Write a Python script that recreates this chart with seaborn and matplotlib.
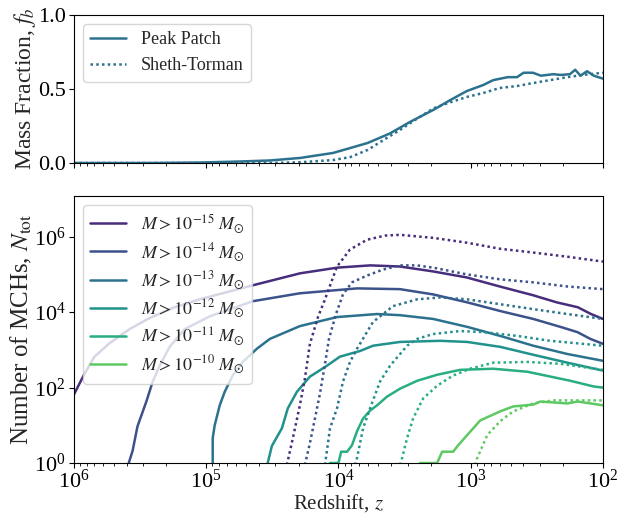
import numpy as np
import pandas as pd
import matplotlib
matplotlib.use("Agg")
import matplotlib.pyplot as plt
import seaborn as sns
from matplotlib.ticker import LogLocator, NullLocator, NullFormatter, FixedLocator

sns.set_style("ticks")
plt.rcParams.update({
    "font.family": "serif",
    "font.serif": ["Liberation Serif", "DejaVu Serif"],
    "mathtext.fontset": "stix",
    "axes.linewidth": 0.8,
    "axes.edgecolor": "black",
    "xtick.color": "black",
    "ytick.color": "black",
})

# ---------------- data (log10 redshift, values) ----------------
# Top panel: collapsed mass fraction
pp_logz = [6.0, 5.43, 5.05, 4.75, 4.52, 4.29, 4.04, 3.78, 3.61, 3.46, 3.28, 3.155, 3.03,
           2.905, 2.83, 2.72, 2.65, 2.60, 2.53, 2.47, 2.375, 2.32, 2.25, 2.21, 2.17, 2.12, 2.07, 2.0]
pp_frac = [0.0, 0.0, 0.003, 0.01, 0.017, 0.034, 0.068, 0.135, 0.20, 0.277, 0.36, 0.425, 0.486,
           0.527, 0.56, 0.58, 0.58, 0.61, 0.61, 0.59, 0.60, 0.595, 0.60, 0.63, 0.59, 0.62, 0.59, 0.57]
st_logz = [6.0, 4.5, 4.29, 4.04, 3.91, 3.78, 3.66, 3.535, 3.405, 3.28, 3.155, 3.03, 2.905,
           2.78, 2.65, 2.53, 2.40, 2.27, 2.15, 2.0]
st_frac = [0.0, 0.0, 0.005, 0.02, 0.04, 0.088, 0.155, 0.223, 0.30, 0.37, 0.41, 0.446, 0.473,
           0.507, 0.52, 0.54, 0.56, 0.58, 0.595, 0.61]

# Bottom panel: number of MCHs above mass thresholds (log10 z, log10 N)
mass_labels = [r"$M > 10^{-15}\ M_{\odot}$", r"$M > 10^{-14}\ M_{\odot}$",
               r"$M > 10^{-13}\ M_{\odot}$", r"$M > 10^{-12}\ M_{\odot}$",
               r"$M > 10^{-11}\ M_{\odot}$", r"$M > 10^{-10}\ M_{\odot}$"]

pp15_logz = [6.0, 5.92, 5.845, 5.73, 5.58, 5.43, 5.24, 5.05, 4.65, 4.29, 4.01, 3.76, 3.535,
             3.285, 3.03, 2.78, 2.53, 2.35, 2.19, 2.09, 2.0]
pp15_logN = [1.82, 2.37, 2.82, 3.18, 3.55, 3.84, 4.13, 4.34, 4.71, 5.03, 5.18, 5.24, 5.21,
             5.08, 4.92, 4.68, 4.45, 4.26, 4.13, 3.95, 3.82]

pp14_logz = [5.595, 5.557, 5.52, 5.45, 5.405, 5.352, 5.277, 5.163, 4.973, 4.648, 4.292, 3.86,
             3.535, 3.284, 3.027, 2.777, 2.527, 2.322, 2.193, 2.095, 2.0]
pp14_logN = [-0.1, 0.32, 0.97, 1.66, 2.16, 2.58, 3.08, 3.55, 3.89, 4.29, 4.50, 4.63,
             4.61, 4.47, 4.26, 4.03, 3.82, 3.61, 3.47, 3.29, 3.16]

pp13_logz = [4.951, 4.951, 4.936, 4.898, 4.86, 4.80, 4.724, 4.617, 4.519, 4.292, 4.011, 3.708,
             3.535, 3.284, 3.027, 2.777, 2.527, 2.269, 2.0]
pp13_logN = [-0.1, 0.66, 1.0, 1.53, 1.89, 2.32, 2.68, 3.03, 3.29, 3.63, 3.87, 3.95,
             3.92, 3.82, 3.61, 3.37, 3.11, 2.89, 2.71]

pp12_logz = [4.542, 4.504, 4.428, 4.383, 4.314, 4.216, 4.087, 3.989, 3.837, 3.739, 3.535,
             3.231, 3.027, 2.777, 2.527, 2.269, 2.0]
pp12_logN = [-0.1, 0.45, 0.92, 1.45, 1.89, 2.29, 2.58, 2.82, 2.97, 3.11, 3.21,
             3.24, 3.21, 3.08, 2.87, 2.66, 2.45]

pp11_logz = [4.064, 4.064, 4.0, 3.98, 3.935, 3.898, 3.86, 3.814, 3.761, 3.708, 3.633, 3.535,
             3.405, 3.254, 3.08, 2.83, 2.572, 2.246, 2.072, 2.0]
pp11_logN = [-0.1, 0.0, 0.0, 0.30, 0.30, 0.47, 0.84, 1.18, 1.39, 1.53, 1.76, 1.97,
             2.18, 2.34, 2.47, 2.50, 2.42, 2.18, 2.03, 2.0]

pp10_logz = [3.383, 3.383, 3.254, 3.216, 3.133, 3.095, 3.027, 2.928, 2.777, 2.678, 2.527,
             2.473, 2.27, 2.19, 2.0]
pp10_logN = [-0.1, 0.0, 0.0, 0.30, 0.30, 0.47, 0.74, 1.13, 1.37, 1.50, 1.55,
             1.63, 1.58, 1.63, 1.53]

st15_logz = [4.39, 4.345, 4.292, 4.254, 4.216, 4.155, 4.102, 4.011, 3.913, 3.784, 3.648,
             3.535, 3.284, 3.027, 2.777, 2.527, 2.269, 2.0]
st15_logN = [-0.05, 0.66, 1.53, 2.24, 3.16, 3.87, 4.34, 5.21, 5.66, 5.92, 6.03,
             6.05, 5.97, 5.84, 5.68, 5.58, 5.47, 5.34]

st14_logz = [4.254, 4.216, 4.178, 4.14, 4.102, 4.072, 4.019, 3.966, 3.898, 3.784, 3.663,
             3.535, 3.405, 3.284, 3.027, 2.777, 2.527, 2.269, 2.0]
st14_logN = [-0.05, 0.53, 1.18, 1.84, 2.63, 3.29, 3.95, 4.47, 4.79, 4.97, 5.13,
             5.24, 5.24, 5.18, 5.0, 4.87, 4.79, 4.68, 4.61]

st13_logz = [4.102, 4.064, 4.011, 3.966, 3.913, 3.86, 3.739, 3.587, 3.405, 3.231, 3.027,
             2.777, 2.527, 2.269, 2.0]
st13_logN = [-0.05, 0.92, 1.45, 2.16, 2.68, 3.03, 3.74, 4.16, 4.34, 4.39, 4.34,
             4.21, 4.08, 3.95, 3.82]

st12_logz = [3.875, 3.86, 3.814, 3.761, 3.686, 3.61, 3.481, 3.405, 3.284, 3.08, 2.905,
             2.648, 2.398, 2.0]
st12_logN = [-0.05, 0.13, 0.92, 1.45, 2.16, 2.58, 3.11, 3.29, 3.42, 3.50, 3.47,
             3.37, 3.24, 3.11]

st11_logz = [3.535, 3.519, 3.481, 3.436, 3.36, 3.254, 3.133, 3.004, 2.83, 2.572, 2.322, 2.0]
st11_logN = [-0.05, 0.13, 0.66, 1.18, 1.71, 2.05, 2.32, 2.50, 2.66, 2.68, 2.63, 2.47]

st10_logz = [2.966, 2.951, 2.875, 2.777, 2.678, 2.527, 2.375, 2.0]
st10_logN = [-0.05, 0.13, 0.74, 1.11, 1.37, 1.58, 1.66, 1.66]

pp_series = [(pp15_logz, pp15_logN), (pp14_logz, pp14_logN), (pp13_logz, pp13_logN),
             (pp12_logz, pp12_logN), (pp11_logz, pp11_logN), (pp10_logz, pp10_logN)]
st_series = [(st15_logz, st15_logN), (st14_logz, st14_logN), (st13_logz, st13_logN),
             (st12_logz, st12_logN), (st11_logz, st11_logN), (st10_logz, st10_logN)]

colors = sns.color_palette("viridis", 7)[:6]
top_color = colors[2]

# ---------------- figure ----------------
fig = plt.figure(figsize=(6.26, 5.14), dpi=100)
ax1 = fig.add_axes([0.1182, 0.6829, 0.845, 0.2879])
ax2 = fig.add_axes([0.1182, 0.0992, 0.845, 0.5195])

for ax in (ax1, ax2):
    ax.set_xscale("log")

LW = 1.8
DOT = (0, (1.0, 1.3))
sns.lineplot(x=np.power(10.0, pp_logz), y=pp_frac, ax=ax1, color=top_color, lw=LW,
             ls="-", sort=False, estimator=None, label="Peak Patch")
sns.lineplot(x=np.power(10.0, st_logz), y=st_frac, ax=ax1, color=top_color, lw=LW,
             ls=DOT, sort=False, estimator=None, label="Sheth-Torman")

for (lz, ln), c, lab in zip(pp_series, colors, mass_labels):
    sns.lineplot(x=np.power(10.0, lz), y=np.power(10.0, ln), ax=ax2, color=c, lw=LW,
                 ls="-", sort=False, estimator=None, label=lab)
for (lz, ln), c in zip(st_series, colors):
    sns.lineplot(x=np.power(10.0, lz), y=np.power(10.0, ln), ax=ax2, color=c, lw=LW,
                 ls=DOT, sort=False, estimator=None)

ax2.set_yscale("log")
for ax in (ax1, ax2):
    ax.set_xlim(1e6, 1e2)
    ax.xaxis.set_major_locator(LogLocator(base=10, numticks=10))
    ax.xaxis.set_minor_locator(LogLocator(base=10, subs=np.arange(2, 10), numticks=20))
    ax.tick_params(axis="both", which="major", labelsize=16, direction="out", pad=2.5)
    ax.tick_params(axis="both", which="minor", direction="out")
ax2.tick_params(axis="x", which="major", pad=1.5)

ax1.set_ylim(0, 1)
ax1.set_yticks([0.0, 0.5, 1.0])
ax1.xaxis.set_major_formatter(NullFormatter())
ax1.xaxis.set_minor_formatter(NullFormatter())
ax1.set_xlabel("")
ax1.set_ylabel(r"Mass Fraction, $f_b$", fontsize=17, labelpad=0)

ax2.set_ylim(1, 10 ** 7.08)
ax2.yaxis.set_major_locator(FixedLocator([1e0, 1e2, 1e4, 1e6]))
ax2.yaxis.set_minor_locator(NullLocator())
ax2.set_xlabel(r"Redshift, $z$", fontsize=15, labelpad=-0.5)
ax2.set_ylabel(r"Number of MCHs, $N_{\rm tot}$", fontsize=18, labelpad=0)

ax1.legend(loc="upper left", fontsize=13, frameon=True)
ax2.legend(loc="upper left", fontsize=13, frameon=True, labelspacing=0.3)

for ax in (ax1, ax2):
    for s in ax.spines.values():
        s.set_visible(True)

fig.savefig("out.png", dpi=100)
